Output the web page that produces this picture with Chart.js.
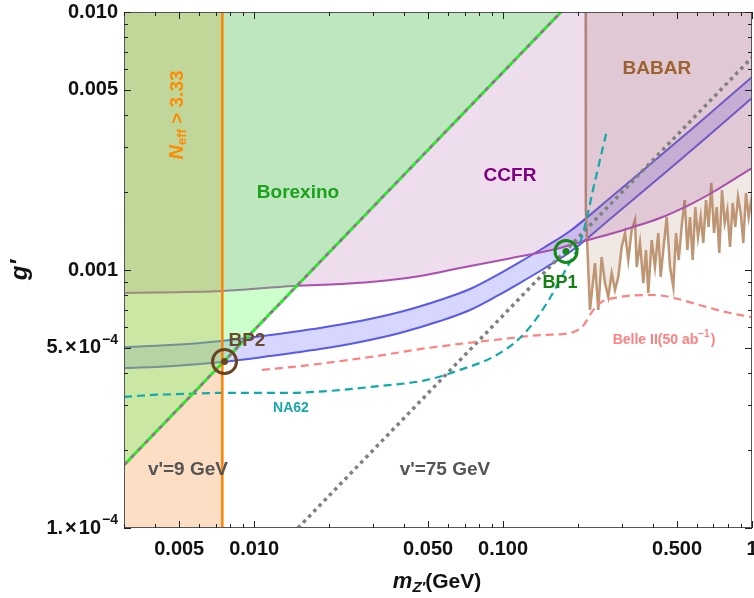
<!DOCTYPE html>
<html>
<head>
<meta charset="utf-8">
<script src="https://cdn.jsdelivr.net/npm/chart.js@4.4.1/dist/chart.umd.min.js"></script>
<style>
  html, body { margin: 0; padding: 0; background: #fff; }
  #wrap { width: 754px; height: 598px; }
</style>
</head>
<body>
<div id="wrap"><canvas id="zpChart" width="754" height="598"></canvas></div>
<script>
// Z' mass (GeV) vs coupling g'

// relic band
const bandMass  = [0.003, 0.00459, 0.00743, 0.01158, 0.01839, 0.02663, 0.03855, 0.0558, 0.07365, 0.09456, 0.1148, 0.1474, 0.1858, 0.269, 0.4272, 0.6184, 1.0];
const bandUpper = [5.03e-4, 5.12e-4, 5.31e-4, 5.60e-4, 5.96e-4, 6.34e-4, 6.87e-4, 7.65e-4, 8.44e-4, 9.56e-4, 1.064e-3, 1.228e-3, 1.416e-3, 1.901e-3, 2.765e-3, 3.747e-3, 5.60e-3];
const bandLower = [4.17e-4, 4.24e-4, 4.40e-4, 4.64e-4, 4.94e-4, 5.26e-4, 5.70e-4, 6.34e-4, 7.00e-4, 7.93e-4, 8.82e-4, 1.018e-3, 1.174e-3, 1.576e-3, 2.292e-3, 3.106e-3, 4.64e-3];

// CCFR bound
const ccfrMass = [0.003, 0.00743, 0.01433, 0.02213, 0.0292, 0.04638, 0.06716, 0.1037, 0.1694, 0.1982, 0.269, 0.3236, 0.4272, 0.5796, 0.6977, 0.9552, 1.0];
const ccfrCoupling = [8.15e-4, 8.29e-4, 8.67e-4, 8.83e-4, 8.98e-4, 9.48e-4, 1.018e-3, 1.103e-3, 1.217e-3, 1.273e-3, 1.378e-3, 1.455e-3, 1.591e-3, 1.818e-3, 2.006e-3, 2.418e-3, 2.484e-3];

// BABAR bound
const babarMass = [0.2148, 0.2150, 0.2234, 0.2340, 0.2413, 0.2489, 0.2567, 0.2647, 0.2731, 0.2816, 0.2903, 0.2996, 0.3090, 0.3184, 0.3286, 0.3388,
  0.3442, 0.3548, 0.3659, 0.3751, 0.3832, 0.3954, 0.4076, 0.4202, 0.4297, 0.4401, 0.4544, 0.4685, 0.4830, 0.4952, 0.5076, 0.5233,
  0.5366, 0.5498, 0.5636, 0.5778, 0.5919, 0.6067, 0.6221, 0.6372, 0.6533, 0.6699, 0.6862, 0.7035, 0.7213, 0.7389, 0.7577, 0.7768,
  0.7960, 0.8160, 0.8366, 0.8568, 0.8785, 0.9006, 0.9226, 0.9460, 0.9699, 0.9936, 1.0];
const babarCoupling = [0.0100, 1.708e-3, 7.00e-4, 1.064e-3, 7.00e-4, 1.123e-3, 8.90e-4, 7.86e-4, 9.74e-4, 8.37e-4, 9.39e-4, 1.228e-3, 1.391e-3, 1.093e-3, 1.429e-3, 1.562e-3,
  1.027e-3, 1.273e-3, 8.90e-4, 1.195e-3, 8.15e-4, 1.307e-3, 1.027e-3, 1.391e-3, 9.39e-4, 1.195e-3, 1.605e-3, 1.027e-3, 8.59e-4, 1.391e-3, 1.093e-3, 1.521e-3,
  1.867e-3, 1.195e-3, 1.605e-3, 1.093e-3, 1.754e-3, 1.342e-3, 1.605e-3, 1.273e-3, 1.867e-3, 1.468e-3, 2.174e-3, 1.391e-3, 1.754e-3, 1.164e-3, 2.042e-3, 1.521e-3,
  1.708e-3, 1.228e-3, 1.819e-3, 1.468e-3, 1.918e-3, 1.663e-3, 1.273e-3, 1.988e-3, 1.605e-3, 1.867e-3, 1.75e-3];

// Belle II projection (50 ab^-1)
const belleMass = [0.01075, 0.01528, 0.0292, 0.04946, 0.09108, 0.1446, 0.1857, 0.2094, 0.2276, 0.245, 0.2949, 0.4001, 0.4685, 0.6356, 0.816, 1.0];
const belleCoupling = [4.10e-4, 4.24e-4, 4.60e-4, 4.98e-4, 5.35e-4, 5.60e-4, 5.70e-4, 6.07e-4, 6.88e-4, 7.45e-4, 7.86e-4, 8.00e-4, 7.86e-4, 7.25e-4, 6.81e-4, 6.57e-4];

// NA62 projection
const na62Mass = [0.003, 0.003921, 0.00537, 0.00729, 0.01354, 0.02016, 0.0292, 0.04946, 0.06712, 0.09108, 0.1169, 0.1368, 0.1543, 0.1693, 0.1857, 0.2037, 0.2174, 0.2297, 0.245, 0.2615];
const na62Coupling = [3.22e-4, 3.28e-4, 3.31e-4, 3.34e-4, 3.34e-4, 3.40e-4, 3.52e-4, 3.75e-4, 4.10e-4, 4.60e-4, 5.45e-4, 6.52e-4, 7.79e-4, 9.15e-4, 1.074e-3, 1.273e-3, 1.605e-3, 2.042e-3, 2.669e-3, 3.49e-3];

// Borexino edge (v'=9 GeV line) and v'=75 GeV line
const borexinoMass = [0.003, 0.171];
const borexinoCoupling = [1.754e-4, 0.0100];
const v75Mass = [0.015, 1.0];
const v75Coupling = [1.0e-4, 6.67e-3];

// N_eff > 3.33 edge
const neffMass = 0.00745;

// benchmark points
const bpNames = ['BP2', 'BP1'];
const bpMass = [0.0076, 0.179];
const bpCoupling = [4.42e-4, 1.18e-3];

// axis ticks
const xMajorTicks = [0.005, 0.01, 0.05, 0.1, 0.5, 1];
const xTickLabels = ['0.005', '0.010', '0.050', '0.100', '0.500', '1'];
const xMinorTicks = [0.003, 0.004, 0.006, 0.007, 0.008, 0.009, 0.02, 0.03, 0.04, 0.06, 0.07, 0.08, 0.09, 0.2, 0.3, 0.4, 0.6, 0.7, 0.8, 0.9];
const yMajorTicks = [1e-4, 5e-4, 1e-3, 5e-3, 1e-2];
// [mantissa, exponent] for scientific labels, plain text otherwise
const yTickLabels = [['1.', '−4'], ['5.', '−4'], '0.001', '0.005', '0.010'];
const yMinorTicks = [2e-4, 3e-4, 4e-4, 6e-4, 7e-4, 8e-4, 9e-4, 2e-3, 3e-3, 4e-3, 6e-3, 7e-3, 8e-3, 9e-3];

const FONT = '"Liberation Sans", Arial, sans-serif';

// text placed on the plot, in (mass, coupling) coordinates
const plotLabels = [
    { text: 'Borexino', m: 0.0150, g: 1.99e-3, color: '#1aa31a', size: 19 },
    { text: 'CCFR', m: 0.1066, g: 2.31e-3, color: '#800080', size: 19 },
    { text: 'BABAR', m: 0.415, g: 6.01e-3, color: '#9c6230', size: 19 },
    { text: 'BP2', m: 0.00935, g: 5.31e-4, color: '#6b4a2b', size: 19 },
    { text: 'BP1', m: 0.1693, g: 8.90e-4, color: '#128212', size: 18 },
    { text: "v'=9 GeV", m: 0.00542, g: 1.68e-4, color: '#555555', size: 19 },
    { text: "v'=75 GeV", m: 0.0584, g: 1.68e-4, color: '#555555', size: 19 },
    { text: 'NA62', m: 0.01406, g: 2.92e-4, color: '#1aa8a8', size: 14 }
];

function pts(xs, ys) {
    return xs.map((m, i) => ({ x: m, y: ys[i] }));
}

// frame, inward ticks, tick labels, axis titles and annotations
const decorPlugin = {
    id: 'decor',
    afterDatasetsDraw(chart) {
        const ctx = chart.ctx;
        const xs = chart.scales.x, ys = chart.scales.y;
        ctx.save();
        ctx.textAlign = 'center';
        ctx.textBaseline = 'middle';
        plotLabels.forEach(l => {
            ctx.font = `bold ${l.size}px ${FONT}`;
            ctx.fillStyle = l.color;
            ctx.fillText(l.text, xs.getPixelForValue(l.m), ys.getPixelForValue(l.g));
        });

        // Belle II label with superscript
        let bx = xs.getPixelForValue(0.443), by = ys.getPixelForValue(5.35e-4);
        ctx.fillStyle = '#ff8080';
        ctx.textAlign = 'left';
        const p1 = 'Belle II(50 ab', p2 = '−1', p3 = ')';
        ctx.font = `bold 14px ${FONT}`;
        const w1 = ctx.measureText(p1).width, w3 = ctx.measureText(p3).width;
        ctx.font = `bold 10px ${FONT}`;
        const w2 = ctx.measureText(p2).width;
        let sx = bx - (w1 + w2 + w3 + 1) / 2;
        ctx.font = `bold 14px ${FONT}`;
        ctx.fillText(p1, sx, by);
        ctx.font = `bold 10px ${FONT}`;
        ctx.fillText(p2, sx + w1, by - 6);
        ctx.font = `bold 14px ${FONT}`;
        ctx.fillText(p3, sx + w1 + w2 + 1, by);

        // N_eff label, rotated
        ctx.save();
        ctx.translate(xs.getPixelForValue(0.00494), ys.getPixelForValue(3.99e-3));
        ctx.rotate(-Math.PI / 2);
        ctx.fillStyle = '#ff8c00';
        ctx.font = `italic bold 20px ${FONT}`;
        const wn = ctx.measureText('N').width;
        ctx.font = `bold 13px ${FONT}`;
        const we = ctx.measureText('eff').width;
        ctx.font = `bold 19px ${FONT}`;
        const wr = ctx.measureText(' > 3.33').width;
        let nx = -(wn + we + wr) / 2;
        ctx.font = `italic bold 20px ${FONT}`;
        ctx.fillText('N', nx, 0);
        ctx.font = `bold 13px ${FONT}`;
        ctx.fillText('eff', nx + wn, 5);
        ctx.font = `bold 19px ${FONT}`;
        ctx.fillText(' > 3.33', nx + wn + we, 0);
        ctx.restore();
        ctx.restore();
    },
    afterDraw(chart) {
        const ctx = chart.ctx;
        const a = chart.chartArea;
        const xs = chart.scales.x, ys = chart.scales.y;
        ctx.save();
        ctx.strokeStyle = '#555';
        ctx.lineWidth = 1;
        ctx.strokeRect(a.left + 0.5, a.top + 0.5, a.right - a.left - 1, a.bottom - a.top - 1);
        ctx.strokeStyle = '#222';
        const tickX = (v, len) => {
            const px = Math.round(xs.getPixelForValue(v)) + 0.5;
            ctx.beginPath();
            ctx.moveTo(px, a.bottom); ctx.lineTo(px, a.bottom - len);
            ctx.moveTo(px, a.top); ctx.lineTo(px, a.top + len);
            ctx.stroke();
        };
        const tickY = (v, len) => {
            const py = Math.round(ys.getPixelForValue(v)) + 0.5;
            ctx.beginPath();
            ctx.moveTo(a.left, py); ctx.lineTo(a.left + len, py);
            ctx.moveTo(a.right, py); ctx.lineTo(a.right - len, py);
            ctx.stroke();
        };
        xMajorTicks.forEach(v => tickX(v, 7));
        xMinorTicks.forEach(v => tickX(v, 4));
        yMajorTicks.forEach(v => tickY(v, 7));
        yMinorTicks.forEach(v => tickY(v, 4));

        // tick labels
        ctx.fillStyle = '#111';
        ctx.textBaseline = 'middle';
        ctx.font = `bold 20px ${FONT}`;
        ctx.textAlign = 'center';
        xMajorTicks.forEach((v, i) => {
            ctx.fillText(xTickLabels[i], xs.getPixelForValue(v), a.bottom + 21);
        });
        ctx.textAlign = 'right';
        yMajorTicks.forEach((v, i) => {
            const py = ys.getPixelForValue(v);
            const lab = yTickLabels[i];
            const rx = a.left - 6;
            if (typeof lab === 'string') {
                ctx.font = `bold 20px ${FONT}`;
                ctx.fillText(lab, rx, py);
            } else {
                ctx.font = `bold 14px ${FONT}`;
                const we = ctx.measureText(lab[1]).width;
                ctx.fillText(lab[1], rx, py - 8);
                ctx.font = `bold 20px ${FONT}`;
                const w10 = ctx.measureText('10').width;
                ctx.fillText('10', rx - we - 1, py);
                const wx = ctx.measureText('×').width;
                ctx.fillText('×', rx - we - w10 - 3, py);
                ctx.fillText(lab[0], rx - we - w10 - wx - 5, py);
            }
        });

        // axis titles
        ctx.textBaseline = 'alphabetic';
        ctx.textAlign = 'left';
        ctx.font = `italic bold 22px ${FONT}`;
        const wm = ctx.measureText('m').width;
        ctx.font = `italic bold 15px ${FONT}`;
        const wz = ctx.measureText('Z′').width;
        ctx.font = `bold 21px ${FONT}`;
        const wg = ctx.measureText('(GeV)').width;
        let tx = 437 - (wm + wz + wg) / 2;
        const ty = 588;
        ctx.font = `italic bold 22px ${FONT}`;
        ctx.fillText('m', tx, ty);
        ctx.font = `italic bold 15px ${FONT}`;
        ctx.fillText('Z′', tx + wm, ty + 4);
        ctx.font = `bold 21px ${FONT}`;
        ctx.fillText('(GeV)', tx + wm + wz, ty);

        ctx.save();
        ctx.translate(27, 270);
        ctx.rotate(-Math.PI / 2);
        ctx.textAlign = 'center';
        ctx.font = `italic bold 24px ${FONT}`;
        ctx.fillText('g′', 0, 0);
        ctx.restore();
        ctx.restore();
    }
};

const ctx = document.getElementById('zpChart').getContext('2d');
const zpChart = new Chart(ctx, {
    type: 'line',
    data: {
        datasets: [
            {   // relic band, upper edge with fill down to lower edge
                data: pts(bandMass, bandUpper),
                borderColor: '#5a5ae8', borderWidth: 2,
                backgroundColor: 'rgba(0, 0, 255, 0.16)',
                fill: { target: 1 },
                cubicInterpolationMode: 'monotone', order: 90
            },
            {
                data: pts(bandMass, bandLower),
                borderColor: '#5a5ae8', borderWidth: 2,
                fill: false, cubicInterpolationMode: 'monotone', order: 89
            },
            {   // BABAR
                data: pts(babarMass, babarCoupling),
                borderColor: 'rgb(190, 150, 115)', borderWidth: 2.5,
                backgroundColor: 'rgba(180, 140, 110, 0.2)',
                fill: 'end', tension: 0, order: 70
            },
            {   // CCFR
                data: pts(ccfrMass, ccfrCoupling),
                borderColor: 'rgb(170, 80, 175)', borderWidth: 2,
                backgroundColor: 'rgba(135, 28, 135, 0.15)',
                fill: 'end', cubicInterpolationMode: 'monotone', order: 60
            },
            {   // N_eff region
                data: [{ x: 0.003, y: 0.01 }, { x: neffMass, y: 0.01 }],
                borderWidth: 0, borderColor: 'rgba(0,0,0,0)',
                backgroundColor: 'rgba(243, 123, 19, 0.25)',
                fill: 'start', order: 50
            },
            {   // Borexino region
                data: pts(borexinoMass, borexinoCoupling),
                borderWidth: 0, borderColor: 'rgba(0,0,0,0)',
                backgroundColor: 'rgba(85, 255, 85, 0.3)',
                fill: 'end', order: 40
            },
            {   // NA62
                data: pts(na62Mass, na62Coupling),
                borderColor: '#12aaa8', borderWidth: 2.2, borderDash: [8, 5],
                fill: false, cubicInterpolationMode: 'monotone', order: 30
            },
            {   // Belle II
                data: pts(belleMass, belleCoupling),
                borderColor: '#ff8282', borderWidth: 2.2, borderDash: [8, 5],
                fill: false, cubicInterpolationMode: 'monotone', order: 30
            },
            {   // v'=75 GeV
                data: pts(v75Mass, v75Coupling),
                borderColor: '#808080', borderWidth: 3.5, borderDash: [3.5, 4],
                fill: false, order: 30
            },
            {   // v'=9 GeV / Borexino edge
                data: pts(borexinoMass, borexinoCoupling),
                borderColor: '#808080', borderWidth: 3, borderDash: [5, 5],
                fill: false, order: 20
            },
            {
                data: pts(borexinoMass, borexinoCoupling),
                borderColor: '#22ee22', borderWidth: 3, borderDash: [5, 5], borderDashOffset: 5,
                fill: false, order: 19
            },
            {   // N_eff edge
                data: [{ x: neffMass, y: 1e-4 }, { x: neffMass, y: 0.01 }],
                borderColor: '#ff8200', borderWidth: 2.5,
                fill: false, order: 10
            },
            {   // benchmark rings
                data: pts(bpMass, bpCoupling),
                showLine: false,
                pointRadius: [12, 11],
                pointBorderWidth: 3,
                pointBorderColor: ['#6b4421', '#138a13'],
                pointBackgroundColor: 'rgba(0,0,0,0)',
                order: 5
            },
            {
                data: pts(bpMass, bpCoupling),
                showLine: false,
                pointRadius: 3.5,
                pointBorderWidth: 0,
                pointBackgroundColor: ['#6b4421', '#138a13'],
                order: 4
            }
        ]
    },
    options: {
        responsive: false,
        animation: false,
        events: [],
        layout: { autoPadding: false, padding: { top: 12, right: 2, left: 0, bottom: 0 } },
        elements: { point: { radius: 0 } },
        plugins: { legend: { display: false }, tooltip: { enabled: false } },
        scales: {
            x: {
                type: 'logarithmic', min: 0.003, max: 1,
                grid: { display: false, drawTicks: false },
                border: { display: false },
                ticks: { display: false },
                afterBuildTicks: axis => { axis.ticks = xMajorTicks.map(v => ({ value: v })); },
                afterFit: axis => { axis.height = 70; }
            },
            y: {
                type: 'logarithmic', min: 1e-4, max: 0.01,
                grid: { display: false, drawTicks: false },
                border: { display: false },
                ticks: { display: false },
                afterBuildTicks: axis => { axis.ticks = yMajorTicks.map(v => ({ value: v })); },
                afterFit: axis => { axis.width = 124; }
            }
        }
    },
    plugins: [decorPlugin]
});
</script>
</body>
</html>
